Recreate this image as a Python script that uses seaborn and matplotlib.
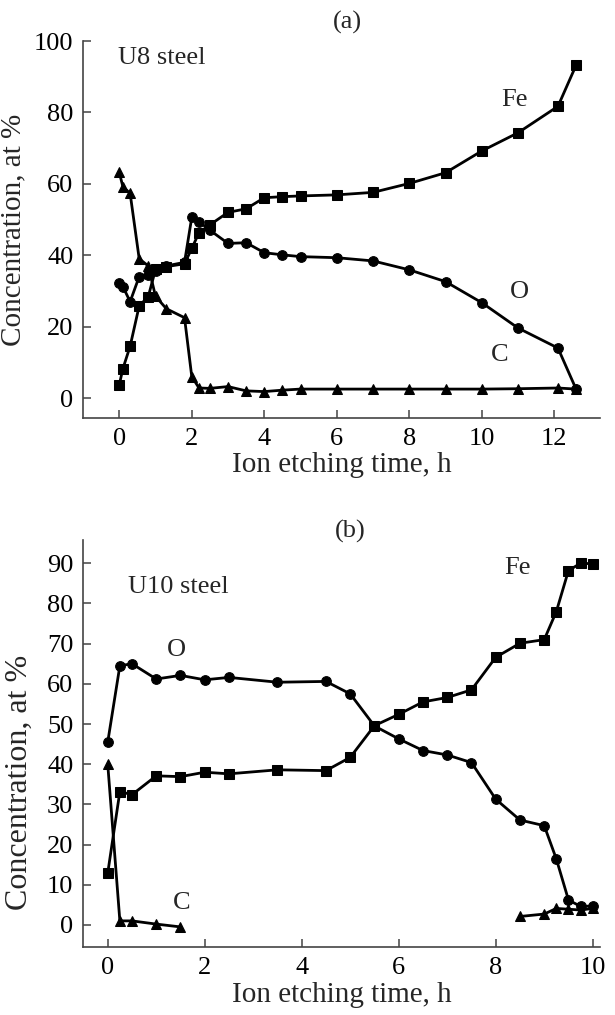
import numpy as np
import pandas as pd
import matplotlib
matplotlib.use("Agg")
import matplotlib.pyplot as plt
import seaborn as sns

# ---------------- data: panel (a) U8 steel ----------------
time_a = [0, 0.1, 0.3, 0.55, 0.8, 1.0, 1.3, 1.8, 2.0, 2.2, 2.5, 3.0, 3.5, 4.0,
          4.5, 5.0, 6.0, 7.0, 8.0, 9.0, 10.0, 11.0, 12.1, 12.6]
fe_a = [3.7, 8.2, 14.5, 25.8, 28.4, 36.0, 36.8, 37.6, 41.9, 46.3, 48.5, 52.0,
        53.0, 56.1, 56.4, 56.6, 56.9, 57.6, 60.1, 63.1, 69.2, 74.3, 81.7, 93.2]
o_a = [32.2, 31.2, 27.0, 34.0, 34.5, 35.5, 37.0, 38.0, 50.6, 49.4, 47.0, 43.3,
       43.5, 40.7, 40.1, 39.6, 39.3, 38.4, 35.9, 32.6, 26.7, 19.6, 14.0, 2.5]
c_a = [63.2, 59.2, 57.3, 39.0, 37.0, 28.5, 25.0, 22.5, 6.0, 2.8, 2.7, 3.2,
       2.0, 1.8, 2.2, 2.5, 2.5, 2.5, 2.5, 2.5, 2.5, 2.6, 2.8, 2.5]

# ---------------- data: panel (b) U10 steel ----------------
time_b = [0, 0.25, 0.5, 1.0, 1.5, 2.0, 2.5, 3.5, 4.5, 5.0, 5.5, 6.0, 6.5, 7.0,
          7.5, 8.0, 8.5, 9.0, 9.25, 9.5, 9.75, 10.0]
fe_b = [12.9, 33.2, 32.4, 37.1, 36.9, 38.0, 37.6, 38.6, 38.4, 41.7, 49.6, 52.4,
        55.5, 56.6, 58.5, 66.6, 70.1, 71.0, 78.0, 88.2, 90.0, 89.9]
o_b = [45.5, 64.5, 65.0, 61.2, 62.1, 61.0, 61.6, 60.4, 60.6, 57.5, 49.5, 46.3,
       43.4, 42.3, 40.4, 31.3, 26.1, 24.7, 16.4, 6.2, 4.6, 4.7]
c_b_time1 = [0, 0.25, 0.5, 1.0, 1.5]
c_b_val1 = [40.0, 1.0, 1.0, 0.2, -0.5]
c_b_time2 = [8.5, 9.0, 9.25, 9.5, 9.75, 10.0]
c_b_val2 = [2.1, 2.7, 4.1, 3.9, 3.7, 4.1]

yticks_a = [0, 20, 40, 60, 80, 100]
xticks_a = [0, 2, 4, 6, 8, 10, 12]
yticks_b = [0, 10, 20, 30, 40, 50, 60, 70, 80, 90]
xticks_b = [0, 2, 4, 6, 8, 10]

sns.set_theme(style="ticks")
plt.rcParams["font.family"] = ["Liberation Serif", "DejaVu Serif"]
plt.rcParams["font.size"] = 19

FS = 19        # tick labels / annotations
LFS = 21       # axis labels
SPINE = "#444444"

fig = plt.figure(figsize=(6.15, 10.15), dpi=100)
ax_a = fig.add_axes([83 / 615, 1 - 418 / 1015, 517 / 615, 377 / 1015])
ax_b = fig.add_axes([83 / 615, 1 - 947 / 1015, 517 / 615, 407 / 1015])


def series_df(t, v, seg=0):
    return pd.DataFrame({"t": t, "v": v, "seg": seg})


line_kw = dict(color="black", linewidth=2.0, markeredgecolor="black",
               estimator=None, legend=False)

# panel (a)
sns.lineplot(data=series_df(time_a, fe_a), x="t", y="v", units="seg",
             marker="s", markersize=6.5, ax=ax_a, **line_kw)
sns.lineplot(data=series_df(time_a, o_a), x="t", y="v", units="seg",
             marker="o", markersize=7, ax=ax_a, **line_kw)
sns.lineplot(data=series_df(time_a, c_a), x="t", y="v", units="seg",
             marker="^", markersize=7.5, ax=ax_a, **line_kw)

# panel (b)
sns.lineplot(data=series_df(time_b, fe_b), x="t", y="v", units="seg",
             marker="s", markersize=6.5, ax=ax_b, **line_kw)
sns.lineplot(data=series_df(time_b, o_b), x="t", y="v", units="seg",
             marker="o", markersize=7, ax=ax_b, **line_kw)
c_b = pd.concat([series_df(c_b_time1, c_b_val1, 0),
                 series_df(c_b_time2, c_b_val2, 1)])
sns.lineplot(data=c_b, x="t", y="v", units="seg",
             marker="^", markersize=7.5, ax=ax_b, **line_kw)

for ax, xl, yl, xt, yt in [(ax_a, (-1.0, 13.26), (-5.6, 100), xticks_a, yticks_a),
                           (ax_b, (-0.51, 10.15), (-5.5, 95.8), xticks_b, yticks_b)]:
    ax.set_xlim(*xl)
    ax.set_ylim(*yl)
    ax.set_xticks(xt)
    ax.set_yticks(yt)
    ax.set_xticklabels([str(v) for v in xt])
    ax.set_yticklabels([str(v) for v in yt])
    for s in ["top", "right"]:
        ax.spines[s].set_visible(False)
    for s in ["left", "bottom"]:
        ax.spines[s].set_color(SPINE)
        ax.spines[s].set_linewidth(1.2)
    ax.tick_params(direction="in", length=6, width=1.1, color=SPINE,
                   labelsize=FS, labelcolor="black", pad=7)
    ax.set_xlabel("Ion etching time, h", fontsize=LFS, labelpad=2)
    ax.set_facecolor("white")

ax_a.set_ylabel("Concentration, at %", fontsize=LFS, labelpad=5)
ax_b.set_ylabel("Concentration, at %", fontsize=LFS + 2, labelpad=5)
ax_b.yaxis.set_label_coords(-0.095, 0.405)

# annotations panel (a)
ax_a.text(-0.04, 95.2, "U8 steel", fontsize=FS, ha="left", va="center")
ax_a.text(10.9, 83.5, "Fe", fontsize=FS, ha="center", va="center")
ax_a.text(11.05, 29.7, "O", fontsize=FS, ha="center", va="center")
ax_a.text(10.5, 12.0, "C", fontsize=FS, ha="center", va="center")

# annotations panel (b)
ax_b.text(0.42, 84.1, "U10 steel", fontsize=FS, ha="left", va="center")
ax_b.text(1.41, 68.4, "O", fontsize=FS, ha="center", va="center")
ax_b.text(8.44, 88.8, "Fe", fontsize=FS, ha="center", va="center")
ax_b.text(1.53, 5.5, "C", fontsize=FS, ha="center", va="center")

fig.text(347 / 615, 1 - 22 / 1015, "(a)", fontsize=FS, ha="center", va="center")
fig.text(350 / 615, 1 - 531 / 1015, "(b)", fontsize=FS, ha="center", va="center")

fig.savefig("out.png", dpi=100, facecolor="white")
